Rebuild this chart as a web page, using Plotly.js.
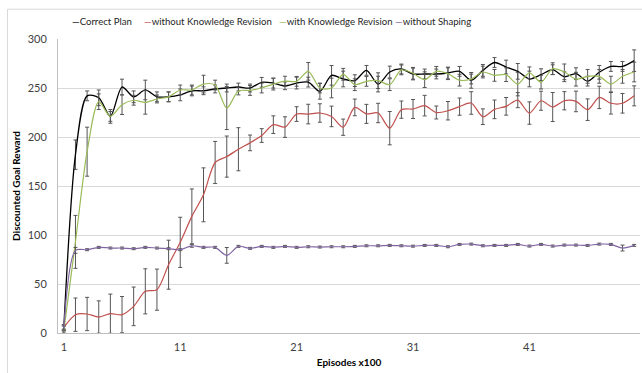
<!DOCTYPE html>
<html><head><meta charset="utf-8">
<script src="https://cdn.plot.ly/plotly-3.0.1.min.js"></script>
<style>html,body{margin:0;padding:0;background:#fff}#chart{width:642px;height:373px}</style>
</head><body><div id="chart"></div>
<script>
const episodes=[1,2,3,4,5,6,7,8,9,10,11,12,13,14,15,16,17,18,19,20,21,22,23,24,25,26,27,28,29,30,31,32,33,34,35,36,37,38,39,40,41,42,43,44,45,46,47,48,49,50];
const xTickLabels=[1,11,21,31,41];
const yTickValues=[0,50,100,150,200,250,300];
const seriesNames=["Correct Plan","without Knowledge Revision","with Knowledge Revision","without Shaping"];
const seriesColors=["#000000","#C0504D","#9BBB59","#8064A2"];

const correctPlan=[5,182,242,240,221,251,241,248,241,241,243,247,247.2,249,250,251,250,255.8,255,252.3,255,256,246.6,262.9,259.2,257.5,268,254,266.3,269.4,264.3,264.3,264.3,265.3,267,257.8,268,276,271.4,267,259.2,263.6,268.7,261.5,264.6,257,266,272,272,277.9];
const correctPlanErr=[3,15,5,8,7,8,6,10,5,5,6,5,4,4,4,4,4,5,5,4,6,5,8,10,8,6,5,8,6,5,6,5,5,6,5,8,6,5,7,8,8,6,5,5,6,5,7,5,5,11];

const withoutKR=[5.7,18.7,19.4,16.3,19.7,18.7,27.2,42.5,44.2,69.7,92.5,119,141,174,180,187.5,194,201.5,212.6,210.1,223.4,223.4,224.5,221,210,230.2,223.6,224.5,209,227.9,228.6,232,225,226.8,231,234.7,220.7,228.2,231.3,237.6,224.4,237,230.6,237,236.3,227.9,240.4,234.4,234.4,242];
const withoutKRErr=[3,17,17,16.5,20,18.5,19.7,23,21,25,25.6,28,27.5,21.5,21,22,8,7,9,10.5,7.5,10,9.4,10.5,8.3,8.5,9.7,9.9,17,8.8,9.7,10.5,6.6,9.4,8.8,11.5,8,9.5,9,7.7,11.4,9.7,14.8,9.3,10.5,11,11.4,11,10,10.2];

const withKR=[2,93,185,236,221,233,237.5,235.3,238.8,241,248,248,254,253,229.6,247,247.5,250,254,257,256.8,267,250,250,264,253.4,256.8,257.5,253.4,268.5,265,258.5,267,264.6,258,259.2,266.3,262.9,263.6,254,265.5,256,269.7,266.5,259,261.9,261.9,254,261.9,266.3];
const withKRErr=[2,27,25,8,5,10,5,12,4,5,5,5,9,5,22,4,5,5,6,5,5,9,5,10,6,6,5,8,6,5,6,8,5,6,6,5,6,6,7,12,6,7,6,8,7,7,7,8,7,10];

const withoutShaping=[5,84.3,85,87.4,86.7,86.7,86,87.4,86.7,86,85,89,87.4,87.4,79.2,88.4,86.4,88.4,87.4,88.4,87.4,88,87.7,88,88,88.4,89,89,89.4,89,88.6,89.4,89.4,88,90.4,90.7,89,89.4,89.4,90.4,88.7,90.4,88.7,89.7,89.7,89.4,90.7,90.4,86.7,89.4];
const withoutShapingErr=[2,3,1,1,1,1,1,1,1,1,1,1.5,1,1,8,1,1,1,1,1,1,1,1,1,1,1,1,1,1,1,1,1,1,1,1,1,1,1,1,1,1,1,1,1,1,1,1,1,3,1];

const allY=[correctPlan,withoutKR,withKR,withoutShaping];
const allErr=[correctPlanErr,withoutKRErr,withKRErr,withoutShapingErr];
const widths=[1.3,1.2,1.2,1.2];

const traces=allY.map((y,i)=>({
  type:'scatter',mode:'lines',name:seriesNames[i],x:episodes,y:y,
  line:{color:seriesColors[i],width:widths[i],shape:'spline',smoothing:0.8},
  error_y:{type:'data',array:allErr[i],visible:true,color:'#555555',thickness:1,width:2},
  showlegend:false,hoverinfo:'x+y'
}));

const FONT='Lato, "Liberation Sans", sans-serif';
const legendX=[0.0206,0.1443,0.3763,0.5756];
const annotations=seriesNames.map((n,i)=>({
  xref:'paper',yref:'paper',x:legendX[i],y:1.06,xanchor:'left',yanchor:'middle',showarrow:false,
  text:'<span style="color:'+seriesColors[i]+'">\u2014</span>'+n,
  font:{family:FONT,size:9.6,color:'#262626'}
}));

const layout={
  width:642,height:373,
  margin:{l:58,r:2,t:39,b:40,pad:0},
  paper_bgcolor:'#ffffff',plot_bgcolor:'#ffffff',
  font:{family:FONT,size:10,color:'#404040'},
  showlegend:false,
  xaxis:{range:[0.5,50.5],tickmode:'array',tickvals:xTickLabels,ticktext:xTickLabels.map(String),
    ticks:'outside',ticklen:4,tickcolor:'rgba(0,0,0,0)',showgrid:false,zeroline:false,
    showline:true,linecolor:'#bfbfbf',linewidth:1,
    tickfont:{family:FONT,size:11,color:'#404040'},
    title:{text:'Episodes x100',font:{family:FONT,size:10,color:'#000000',weight:'bold'},standoff:6}},
  xaxis2:{range:[0.5,50.5],overlaying:'x',anchor:'y',side:'bottom',tickmode:'array',
    tickvals:[0.5,10.5,20.5,30.5,40.5,50.5],ticks:'outside',ticklen:4,tickcolor:'#bfbfbf',
    showticklabels:false,showgrid:false,zeroline:false,showline:false},
  yaxis:{range:[0,300],tickmode:'array',tickvals:yTickValues,
    ticks:'outside',ticklen:8,tickcolor:'rgba(0,0,0,0)',
    showgrid:true,gridcolor:'#d9d9d9',gridwidth:1,zeroline:false,
    showline:true,linecolor:'#bfbfbf',linewidth:1,
    tickfont:{family:FONT,size:11,color:'#404040'},
    title:{text:'Discounted Goal Reward',font:{family:FONT,size:10,color:'#000000',weight:'bold'},standoff:5}},
  shapes:[{type:'rect',xref:'paper',yref:'paper',x0:-0.0868,x1:1.01,y0:-0.2,y1:1.1014,
    line:{color:'#d9d9d9',width:1},fillcolor:'rgba(0,0,0,0)',layer:'below'}],
  annotations:annotations
};
Plotly.newPlot('chart',traces,layout,{displayModeBar:false,staticPlot:true});
</script></body></html>
